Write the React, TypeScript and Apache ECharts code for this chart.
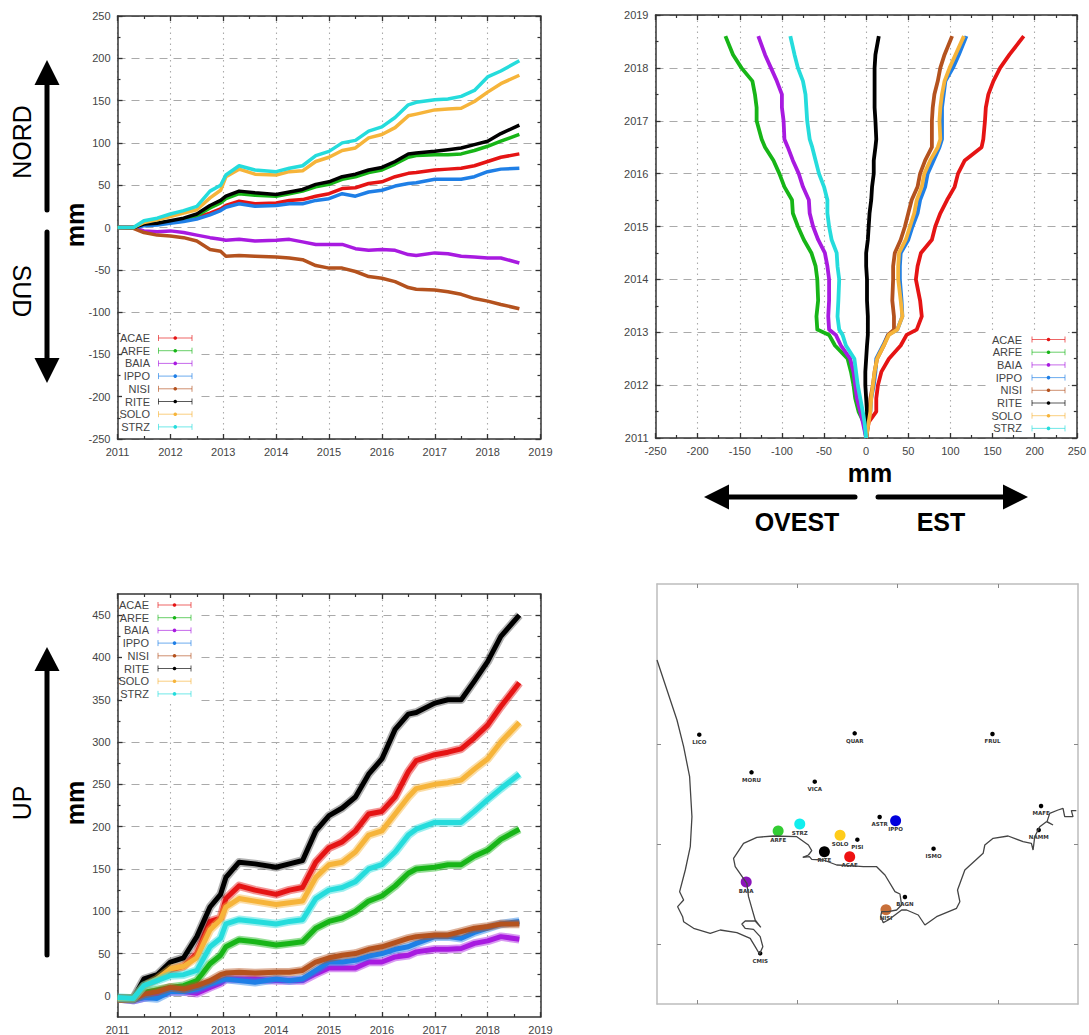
import React, { useEffect, useRef } from "react";
import * as echarts from "echarts";

const STATIONS = ["ACAE", "ARFE", "BAIA", "IPPO", "NISI", "RITE", "SOLO", "STRZ"];
const COLORS = ["#e51414", "#17b517", "#a81ae0", "#1f7fe6", "#b4521e", "#000000", "#f6b43a", "#25dcdc"];
const TIMES = [2011, 2011.3, 2011.5, 2011.75, 2012, 2012.25, 2012.5, 2012.75, 2012.95, 2013.05, 2013.3, 2013.6, 2014, 2014.25, 2014.5, 2014.75, 2015, 2015.25, 2015.5, 2015.75, 2016, 2016.25, 2016.5, 2016.65, 2017, 2017.25, 2017.5, 2017.75, 2018, 2018.25, 2018.6];

const N_ACAE = [0, 0, 3, 4, 6, 9, 12, 17, 22, 26, 31, 28, 29, 32, 33, 37, 40, 46, 47, 52, 54, 60, 64, 65, 68, 69, 70, 73, 78, 83, 87];
const N_ARFE = [0, 0, 3, 5, 7, 10, 14, 23, 29, 34, 40, 38, 37, 40, 43, 48, 51, 57, 60, 65, 68, 75, 83, 85, 86, 86, 87, 91, 96, 102, 110];
const N_BAIA = [0, 0, -4, -5, -4, -6, -9, -12, -14, -15, -14, -16, -15, -14, -17, -20, -20, -20, -25, -27, -26, -27, -32, -33, -30, -31, -34, -35, -36, -36, -42];
const N_IPPO = [0, 0, 2, 3, 5, 7, 10, 15, 20, 24, 28, 25, 26, 28, 28, 32, 34, 40, 37, 42, 44, 49, 52, 53, 57, 57, 57, 60, 66, 69, 70];
const N_NISI = [0, -1, -6, -9, -10, -12, -16, -26, -28, -34, -33, -34, -35, -36, -38, -45, -48, -48, -52, -58, -60, -64, -71, -73, -74, -76, -79, -84, -87, -91, -96];
const N_RITE = [0, 0, 4, 5, 8, 11, 16, 26, 32, 37, 43, 41, 39, 42, 45, 51, 54, 60, 63, 68, 71, 78, 87, 88, 90, 92, 94, 98, 102, 111, 121];
const N_SOLO = [0, 0, 6, 9, 13, 17, 21, 35, 44, 60, 69, 63, 62, 66, 67, 78, 83, 91, 94, 106, 110, 118, 132, 134, 139, 140, 141, 149, 160, 170, 180];
const N_STRZ = [0, 0, 8, 11, 16, 20, 25, 43, 50, 62, 73, 68, 66, 70, 73, 85, 90, 100, 103, 114, 119, 130, 145, 148, 151, 152, 155, 162, 178, 185, 197];

const E_ACAE = [0, 3, 12, 12, 14, 18, 27, 41, 48, 60, 66, 64, 59, 61, 65, 78, 82, 88, 96, 105, 109, 117, 137, 139, 141, 142, 145, 151, 159, 170, 187];
const E_ARFE = [0, -3, -9, -13, -15, -18, -22, -37, -44, -58, -59, -57, -58, -60, -65, -74, -81, -87, -88, -97, -103, -110, -120, -124, -130, -130, -132, -135, -148, -158, -167];
const E_BAIA = [0, -4, -7, -11, -13, -15, -19, -30, -36, -44, -45, -44, -44, -46, -49, -57, -63, -67, -68, -75, -80, -87, -93, -97, -98, -100, -100, -106, -113, -120, -128];
const E_IPPO = [0, 2, 5, 6, 9, 11, 12, 20, 26, 37, 43, 42, 40, 40, 41, 50, 55, 61, 64, 70, 73, 80, 87, 90, 90, 90, 92, 94, 103, 110, 119];
const E_NISI = [0, 2, 4, 5, 8, 10, 13, 21, 26, 33, 33, 31, 32, 32, 34, 41, 46, 50, 54, 61, 64, 70, 78, 78, 78, 79, 81, 85, 88, 93, 102];
const E_RITE = [0, 1, 1, 0, -1, -1, 0, 1, 2, 2, 2, 1, 1, 0, 0, 2, 3, 4, 6, 7, 9, 9, 11, 12, 11, 10, 10, 10, 10, 11, 15];
const E_SOLO = [0, 3, 5, 6, 8, 10, 13, 21, 27, 37, 43, 41, 38, 38, 39, 47, 52, 57, 60, 66, 69, 76, 85, 88, 87, 88, 90, 93, 99, 106, 116];
const E_STRZ = [0, -2, -4, -7, -10, -12, -14, -24, -28, -32, -34, -33, -32, -34, -35, -41, -44, -46, -46, -50, -56, -60, -64, -67, -70, -71, -72, -75, -81, -85, -90];

const U_ACAE = [-3, -3, 13, 20, 30, 35, 50, 88, 92, 115, 130, 125, 120, 125, 128, 158, 175, 182, 195, 215, 218, 235, 265, 278, 285, 288, 292, 305, 320, 342, 370];
const U_ARFE = [-3, -3, 4, 7, 10, 12, 18, 38, 48, 58, 66, 64, 60, 62, 64, 80, 88, 92, 100, 112, 118, 130, 145, 150, 152, 155, 155, 165, 172, 185, 197];
const U_BAIA = [-3, -5, -2, 1, 5, 5, 3, 10, 15, 20, 20, 20, 18, 18, 18, 26, 33, 33, 33, 40, 40, 46, 48, 52, 55, 55, 56, 62, 65, 70, 67];
const U_IPPO = [-3, -5, -2, -3, 5, 5, 8, 14, 18, 20, 18, 16, 20, 18, 20, 30, 40, 40, 42, 47, 50, 55, 58, 62, 70, 70, 68, 75, 80, 85, 88];
const U_NISI = [-3, -4, 2, 5, 10, 8, 12, 18, 25, 27, 28, 27, 28, 28, 30, 40, 45, 48, 50, 55, 58, 63, 68, 70, 72, 72, 76, 80, 82, 85, 85];
const U_RITE = [-3, -3, 20, 25, 40, 45, 70, 105, 120, 140, 158, 156, 152, 156, 160, 195, 213, 222, 235, 262, 280, 315, 333, 335, 346, 350, 350, 372, 395, 425, 450];
const U_SOLO = [-3, -3, 12, 20, 32, 35, 45, 78, 90, 105, 115, 112, 108, 110, 112, 140, 155, 158, 170, 190, 195, 215, 235, 245, 250, 252, 255, 268, 280, 300, 323];
const U_STRZ = [-2, -3, 12, 18, 24, 25, 30, 58, 68, 85, 90, 88, 85, 88, 90, 115, 125, 128, 135, 150, 155, 170, 190, 197, 205, 205, 205, 218, 232, 245, 262];

const NORD = [N_ACAE, N_ARFE, N_BAIA, N_IPPO, N_NISI, N_RITE, N_SOLO, N_STRZ];
const EST = [E_ACAE, E_ARFE, E_BAIA, E_IPPO, E_NISI, E_RITE, E_SOLO, E_STRZ];
const UP = [U_ACAE, U_ARFE, U_BAIA, U_IPPO, U_NISI, U_RITE, U_SOLO, U_STRZ];

const UP_MAJOR = [0, 50, 100, 150, 200, 250, 300, 350, 400, 450];
const UP_MINOR = [25, 75, 125, 175, 225, 275, 325, 375, 425];

const COAST = [[50, -180], [110, 0], [130, 80], [148, 170], [155, 290], [150, 380], [135, 450], [118, 515], [130, 540], [112, 560], [127, 590], [130, 605], [160, 625], [210, 640], [240, 630], [290, 638], [330, 655], [345, 680], [358, 702], [368, 680], [360, 650], [340, 628], [315, 625], [305, 612], [315, 603], [345, 603], [362, 622], [345, 600], [335, 565], [325, 530], [320, 490], [285, 440], [280, 415], [310, 370], [350, 352], [400, 348], [470, 350], [505, 375], [515, 392], [505, 405], [488, 412], [508, 410], [515, 418], [550, 420], [590, 435], [630, 437], [670, 440], [710, 440], [735, 465], [765, 515], [780, 522], [785, 555], [770, 570], [745, 575], [725, 575], [722, 590], [730, 608], [745, 600], [785, 570], [800, 570], [835, 585], [855, 615], [890, 590], [950, 565], [960, 545], [953, 510], [975, 450], [1030, 400], [1035, 375], [1060, 355], [1105, 348], [1150, 365], [1175, 370], [1180, 390], [1185, 350], [1200, 320], [1220, 305], [1240, 315], [1222, 305], [1230, 280], [1255, 270], [1270, 265], [1275, 290], [1300, 290], [1295, 272], [1310, 272]];

const SMALL_NAMES = ["LICO", "QUAR", "FRUL", "MORU", "VICA", "ASTR", "PISI", "ISMO", "BAGN", "MAFE", "NAMM", "CMIS"];
const SMALL_X = [177, 644, 1058, 334, 524, 719, 652, 881, 795, 1204, 1197, 360];
const SMALL_Y = [44, 40, 42, 157, 185, 291, 359, 386, 531, 258, 330, 700];
const BIG_NAMES = ["ARFE", "STRZ", "SOLO", "RITE", "ACAE", "IPPO", "BAIA", "NISI"];
const BIG_X = [414, 479, 600, 553, 629, 767, 318, 738];
const BIG_Y = [333, 312, 346, 395, 410, 302, 486, 569];
const BIG_COLORS = ["#33cc33", "#11eeee", "#ffcc1a", "#000000", "#ee1111", "#0000dd", "#8a14bb", "#c8703a"];

const SANS = "'Liberation Sans', Arial, sans-serif";
const TICK = "#333";
const xLeft = [117.5, 655.5, 117.5];
const yTop = [16, 15, 594];
const SIZE = 423;

function side(gridIndex: number, position: string, min: number, max: number, extra: any, labels: boolean, grid: any) {
  return {
    gridIndex, type: "value", position, min, max, scale: true,
    axisLine: { show: true, onZero: false, lineStyle: { color: "#333", width: 1.5 } },
    axisTick: { show: true, inside: true, length: 5, lineStyle: { color: TICK, width: 1.3 } },
    minorTick: { show: false },
    axisLabel: labels ? { show: true, color: "#444", fontFamily: SANS, fontSize: 11, margin: 7, formatter: (v: number) => String(v) } : { show: false },
    splitLine: grid ? { show: true, lineStyle: grid } : { show: false },
    ...extra,
  };
}
const minorOn = { minorTick: { show: true, splitNumber: 2, length: 3, lineStyle: { color: TICK, width: 1.2 } } };
const DOT = { color: "#aaaaaa", type: [1.5, 4], width: 1.1 };
const DASH = { color: "#aaaaaa", type: [8, 6], width: 1.2 };

function legendBlock(textRight: number, barL: number, barR: number, y0: number, dy: number) {
  const out: any[] = [];
  STATIONS.forEach((s, i) => {
    const y = y0 + i * dy;
    const c = COLORS[i];
    out.push({ type: "text", z: 5, x: textRight, y, style: { text: s, font: `11px ${SANS}`, fill: "#444", textAlign: "right", textVerticalAlign: "middle" } });
    out.push({ type: "line", z: 5, shape: { x1: barL, y1: y, x2: barR, y2: y }, style: { stroke: c, lineWidth: 1, opacity: 0.65 } });
    out.push({ type: "line", z: 5, shape: { x1: barL, y1: y - 3, x2: barL, y2: y + 3 }, style: { stroke: c, lineWidth: 1, opacity: 0.65 } });
    out.push({ type: "line", z: 5, shape: { x1: barR, y1: y - 3, x2: barR, y2: y + 3 }, style: { stroke: c, lineWidth: 1, opacity: 0.65 } });
    out.push({ type: "circle", z: 5, shape: { cx: (barL + barR) / 2, cy: y, r: 1.8 }, style: { fill: c } });
  });
  return out;
}
function vArrow(x: number, tip: number, base: number, tail: number) {
  return [
    { type: "line", z: 5, shape: { x1: x, y1: base, x2: x, y2: tail }, style: { stroke: "#000", lineWidth: 5, lineCap: "round" } },
    { type: "polygon", z: 5, shape: { points: [[x, tip], [x - 12.5, base], [x + 12.5, base]] }, style: { fill: "#000" } },
  ];
}
function hArrow(y: number, tip: number, base: number, tail: number) {
  return [
    { type: "line", z: 5, shape: { x1: base, y1: y, x2: tail, y2: y }, style: { stroke: "#000", lineWidth: 5, lineCap: "round" } },
    { type: "polygon", z: 5, shape: { points: [[tip, y], [base, y - 12.5], [base, y + 12.5]] }, style: { fill: "#000" } },
  ];
}
function label(text: string, x: number, y: number, rotation: number, bold = false) {
  return { type: "text", z: 5, x, y, rotation, style: { text, font: `${bold ? "bold " : ""}25px ${SANS}`, fill: "#000", textAlign: "center", textVerticalAlign: "middle" } };
}

export default function App() {
  const ref = useRef<HTMLDivElement>(null);
  useEffect(() => {
    if (!ref.current) return;
    const chart = echarts.init(ref.current, undefined, { renderer: "svg" });
    const grid = [
      { left: xLeft[0], top: yTop[0], width: SIZE, height: SIZE },
      { left: xLeft[1], top: yTop[1], width: SIZE, height: SIZE },
      { left: xLeft[2], top: yTop[2], width: SIZE, height: SIZE },
      { left: 657, top: 584, width: 421, height: 420 },
    ];
    const yearX = { interval: 1, ...minorOn };
    const val50 = { interval: 50, ...minorOn };
    const upMain = { interval: 25 };
    const majorUp = (lab: boolean) => ({
      ...upMain,
      axisTick: { show: true, inside: true, length: 5, customValues: UP_MAJOR, lineStyle: { color: TICK, width: 1.3 } },
      ...(lab ? { axisLabel: { show: true, customValues: UP_MAJOR, color: "#444", fontFamily: SANS, fontSize: 11, margin: 7, formatter: (v: number) => String(v) } } : {}),
    });
    const minorUp = {
      ...upMain,
      axisLine: { show: false },
      axisTick: { show: true, inside: true, length: 3, customValues: UP_MINOR, lineStyle: { color: TICK, width: 1.2 } },
    };
    const mapFrame = { axisLine: { show: true, onZero: false, lineStyle: { color: "#bdbdbd", width: 1.5 } } };
    const mapX = { ...mapFrame, axisTick: { show: true, inside: true, length: 4, customValues: [172, 472, 772, 1075], lineStyle: { color: "#888", width: 1 } } };
    const mapY = { ...mapFrame, inverse: true, axisTick: { show: true, inside: true, length: 4, customValues: [72, 372, 672], lineStyle: { color: "#888", width: 1 } } };

    const xAxis: any[] = [
      side(0, "bottom", 2011, 2019, yearX, true, DOT), side(0, "top", 2011, 2019, yearX, false, null),
      side(1, "bottom", -250, 250, val50, true, DOT), side(1, "top", -250, 250, val50, false, null),
      side(2, "bottom", 2011, 2019, yearX, true, DOT), side(2, "top", 2011, 2019, yearX, false, null),
      side(3, "bottom", 50, 1315, mapX, false, null), side(3, "top", 50, 1315, mapX, false, null),
    ];
    const yAxis: any[] = [
      side(0, "left", -250, 250, val50, true, DASH), side(0, "right", -250, 250, val50, false, null),
      side(1, "left", 2011, 2019, yearX, true, DASH), side(1, "right", 2011, 2019, yearX, false, null),
      side(2, "left", -25, 475, majorUp(true), true, DASH), side(2, "right", -25, 475, majorUp(false), false, null),
      side(3, "left", -408, 852, mapY, false, null), side(3, "right", -408, 852, mapY, false, null),
      side(2, "left", -25, 475, minorUp, false, null), side(2, "right", -25, 475, minorUp, false, null),
    ];

    const series: any[] = [];
    const addLines = (data: number[][], xi: number, yi: number, width: number, flip: boolean, halo: number) => {
      data.forEach((vals, i) => {
        const pts = TIMES.map((t, k) => (flip ? [vals[k], t] : [t, vals[k]]));
        if (halo > 0) {
          series.push({
            type: "line", name: STATIONS[i] + " error", xAxisIndex: xi, yAxisIndex: yi, showSymbol: false, symbol: "none", z: 2 + i * 0.01,
            data: pts, lineStyle: { color: COLORS[i], width: halo, opacity: i === 5 ? 0.3 : 0.45, join: "round" },
          });
        }
        series.push({
          type: "line", name: STATIONS[i], xAxisIndex: xi, yAxisIndex: yi, showSymbol: false, symbol: "none", z: 2 + i * 0.01,
          data: pts,
          lineStyle: { color: COLORS[i], width, join: "round" },
          itemStyle: { color: COLORS[i] },
        });
      });
    };
    addLines(NORD, 0, 0, 3.5, false, 0);
    addLines(EST, 2, 2, 3.8, true, 0);
    addLines(UP, 4, 4, 5, false, 8.5);
    series.push({
      type: "line", name: "coast", xAxisIndex: 6, yAxisIndex: 6, showSymbol: false, symbol: "none",
      data: COAST, lineStyle: { color: "#444", width: 1.3 },
    });
    const stationLabel = { show: true, position: "bottom", distance: 2, formatter: "{b}", fontFamily: "'DejaVu Sans'", fontWeight: "bold", fontSize: 5.5, color: "#333" };
    series.push({
      type: "scatter", name: "small", xAxisIndex: 6, yAxisIndex: 6, symbolSize: 4.5, itemStyle: { color: "#000", opacity: 1 }, label: stationLabel,
      data: SMALL_NAMES.map((n, i) => ({ name: n, value: [SMALL_X[i], SMALL_Y[i]] })),
    });
    series.push({
      type: "scatter", name: "big", xAxisIndex: 6, yAxisIndex: 6, symbolSize: 11, label: { ...stationLabel, distance: 0 },
      data: BIG_NAMES.map((n, i) => ({ name: n, value: [BIG_X[i], BIG_Y[i]], itemStyle: { color: BIG_COLORS[i], opacity: 1 } })),
    });

    const graphic: any[] = [
      { type: "rect", z: 1, shape: { x: 122, y: 331, width: 74, height: 102 }, style: { fill: "#fff" } },
      { type: "rect", z: 1, shape: { x: 990, y: 330, width: 78, height: 103 }, style: { fill: "#fff" } },
      { type: "rect", z: 1, shape: { x: 122, y: 598, width: 75, height: 103 }, style: { fill: "#fff" } },
      ...legendBlock(150, 158.5, 192, 338, 12.7),
      ...legendBlock(1022, 1032, 1065, 339.5, 12.7),
      ...legendBlock(149, 158, 191, 605, 12.7),
      ...vArrow(47, 60, 85, 210), ...vArrow(47, 383, 358, 232), ...vArrow(47, 647, 671, 955),
      ...hArrow(497, 704, 729, 855), ...hArrow(497, 1028, 1003, 878),
      label("NORD", 22, 142, Math.PI / 2), label("SUD", 22, 291, -Math.PI / 2), label("mm", 75, 225, Math.PI / 2, true),
      label("UP", 22, 803, Math.PI / 2), label("mm", 75, 803, Math.PI / 2, true),
      label("mm", 870, 473, 0, true), label("OVEST", 797, 522, 0, true), label("EST", 941, 522, 0, true),
    ];

    chart.setOption({ animation: false, backgroundColor: "#fff", grid, xAxis, yAxis, series, graphic });
    return () => chart.dispose();
  }, []);
  return <div ref={ref} style={{ position: "fixed", left: 0, top: 0, width: 1089, height: 1035 }} />;
}
